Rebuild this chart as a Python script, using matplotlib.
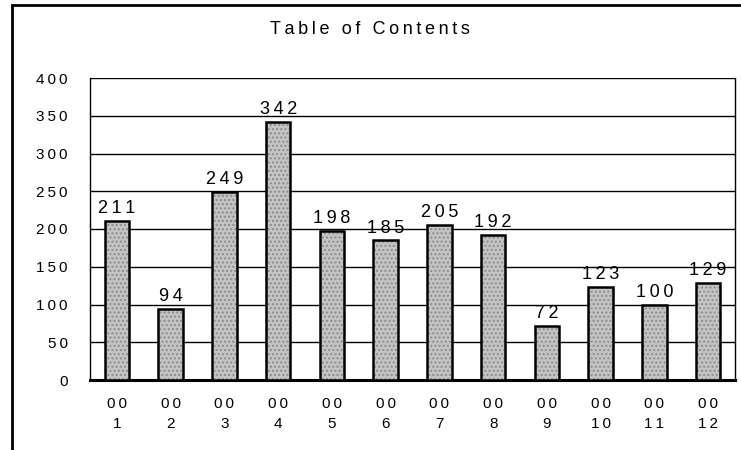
import matplotlib.pyplot as plt
from matplotlib.patches import Rectangle

# Data
categories = ['00\n1', '00\n2', '00\n3', '00\n4', '00\n5', '00\n6',
              '00\n7', '00\n8', '00\n9', '00\n10', '00\n11', '00\n12']
values = [211, 94, 249, 342, 198, 185, 205, 192, 72, 123, 100, 129]
yticks = [0, 50, 100, 150, 200, 250, 300, 350, 400]

plt.rcParams['font.family'] = ['Liberation Sans', 'DejaVu Sans']


def spaced(s):
    # the original uses wide letter spacing
    return '\n'.join('\u2009'.join(line) for line in s.split('\n'))


fig = plt.figure(figsize=(7.41, 4.5), dpi=100)
ax = fig.add_axes([90 / 741, 70 / 450, 645 / 741, 302 / 450])

x = range(len(values))
bars = ax.bar(x, values, width=0.46, color='#c4c4c4', edgecolor='black',
              linewidth=1.8, hatch='....', zorder=3)
for b in bars:
    b._hatch_color = (0.55, 0.55, 0.55, 1)

for i, v in zip(x, values):
    ax.text(i, v + 5, spaced(str(v)), ha='center', va='bottom', fontsize=13)

ax.set_xlim(-0.5, len(values) - 0.5)
ax.set_ylim(0, 400)
ax.set_yticks(yticks)
ax.set_yticklabels([spaced(str(t)) for t in yticks], fontsize=11)
ax.set_xticks(list(x))
ax.set_xticklabels([spaced(c) for c in categories], fontsize=11,
                   linespacing=1.6)
ax.tick_params(axis='y', length=0, pad=16)
ax.tick_params(axis='x', length=0, pad=12)

ax.yaxis.grid(True, color='black', linewidth=1.0, zorder=0)
ax.spines['top'].set_visible(False)
for s in ['left', 'right']:
    ax.spines[s].set_linewidth(1.0)
ax.spines['bottom'].set_linewidth(2.2)

fig.text(370 / 741, 1 - 30 / 450, spaced('Table of Contents'), ha='center',
         va='center', fontsize=13)

# outer frame
fig.patches.append(Rectangle((12 / 741, -0.01), 735 / 741, 1 - 5 / 450 + 0.01,
                             transform=fig.transFigure, fill=False,
                             edgecolor='black', linewidth=2))

fig.savefig('out.png', dpi=100)
